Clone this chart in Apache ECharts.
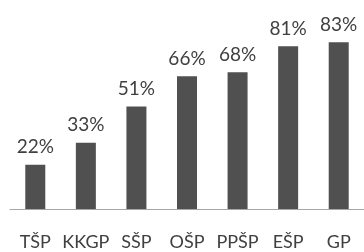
<!DOCTYPE html>
<html><head><meta charset="utf-8">
<script src="https://cdn.jsdelivr.net/npm/echarts@6/dist/echarts.min.js"></script>
<style>html,body{margin:0;padding:0;background:#fff}#c{width:364px;height:252px}</style>
</head><body><div id="c"></div>
<script>
const categories = ['TŠP','KKGP','SŠP','OŠP','PPŠP','EŠP','GP'];
const values = [22,33,51,66,68,81,83];
const chart = echarts.init(document.getElementById('c'), null, {renderer:'canvas'});
chart.setOption({
  animation:false,
  grid:{left:10,right:-6,top:8,bottom:43},
  xAxis:{type:'category',data:categories,
    axisLine:{lineStyle:{color:'#a6a6a6',width:1}},
    axisTick:{show:false},
    axisLabel:{color:'#404040',fontFamily:'Lato',fontSize:18,margin:24,interval:0}},
  yAxis:{type:'value',min:0,max:100,show:false,splitLine:{show:false}},
  series:[{type:'bar',data:values,barWidth:20,
    itemStyle:{color:'#505050'},
    label:{show:true,position:'top',distance:8,formatter:'{c}%',color:'#404040',fontFamily:'Lato',fontSize:19}}]
});
</script></body></html>
